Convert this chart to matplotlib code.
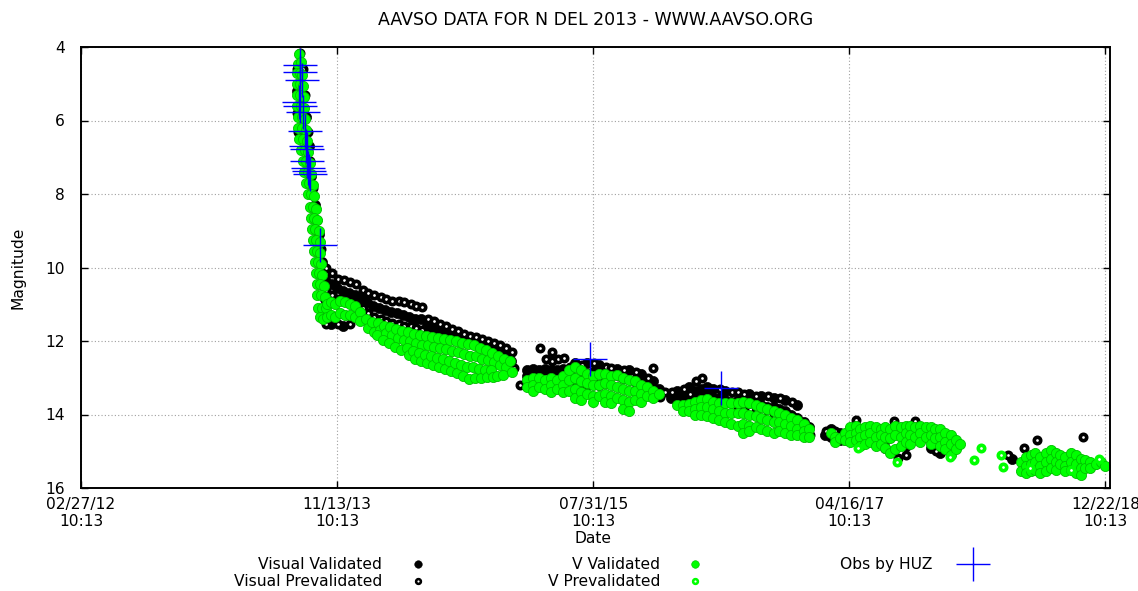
import datetime as dt

import matplotlib
matplotlib.use('Agg')
import matplotlib.pyplot as plt
import matplotlib.dates as mdates
from matplotlib.legend_handler import HandlerLine2D
from matplotlib.lines import Line2D
import numpy as np

# Nova Delphini 2013 light curve (AAVSO).
# Dates are JD - 2456000, magnitudes as plotted.
JD_OFFSET = 2456000.0
JD_UNIX = 2440587.5  # JD of 1970-01-01 = matplotlib date 0

# --- Visual Validated (solid black)
vis_val_jd = [512, 535, 541, 547, 556, 566, 574,
              581, 581, 595, 595, 610, 625, 625, 639, 654, 669, 683, 698, 713, 727, 742, 757, 771, 786, 800, 815,
              830, 844, 859, 874, 888, 903, 918, 932, 947, 962, 976, 991, 1006, 1020, 1035,
              1074, 1074, 1089, 1089, 1103, 1118, 1132, 1147, 1162, 1176, 1191, 1191, 1206, 1220, 1220, 1235,
              1250, 1250, 1264, 1294, 1308, 1323, 1338, 1352, 1352, 1367, 1381, 1396,
              1425, 1440, 1440, 1455, 1469, 1469, 1484, 1499, 1513, 1513, 1528, 1528, 1543, 1557, 1557, 1572,
              1587, 1601, 1616, 1616, 1631, 1645, 1645, 1660, 1675, 1675, 1689, 1704, 1704, 1718, 1733, 1733,
              1748, 1762,
              1801, 1814, 1814, 1838, 1838, 1850, 1862, 1862, 1875, 1887, 1887, 1899, 1899, 1911, 1924, 1936,
              1936, 1948, 1960, 1997, 2009, 2021, 2033, 2046, 2058, 2058, 2070, 2082, 2082, 2094, 2107, 2119,
              2258, 2290, 2319, 2338, 2363, 2387, 2448]
vis_val_mag = [5.2, 5.9, 6.7, 7.5, 8.3, 9.1, 9.85,
               10.3, 10.85, 10.45, 11.55, 10.55, 10.65, 11.58, 10.7, 10.75, 10.85, 10.95, 11.05, 11.1, 11.15, 11.2,
               11.25, 11.3, 11.35, 11.4, 11.4,
               11.6, 11.65, 11.75, 11.8, 11.85, 11.9, 11.95, 12.0, 12.05, 12.1, 12.15, 12.2, 12.3, 12.4, 12.55,
               12.8, 12.95, 12.75, 13.05, 12.8, 12.75, 12.8, 12.8, 12.75, 12.85, 12.6, 13.1, 12.9, 12.6, 13.2, 12.85,
               12.65, 13.2, 12.95, 12.75, 13.0, 12.8, 13.1, 12.9, 13.35, 13.2, 13.1, 13.3,
               13.55, 13.35, 13.55, 13.5, 13.25, 13.65, 13.35, 13.3, 13.25, 13.5, 13.3, 13.55, 13.55, 13.35, 13.6,
               13.65, 13.6, 13.65, 13.45, 13.7, 13.7, 13.5, 13.75, 13.8, 13.55, 13.8, 13.85, 13.6, 13.9, 14.0,
               13.75, 14.1, 14.2, 14.35,
               14.55, 14.4, 14.6, 14.5, 14.7, 14.7, 14.4, 14.6, 14.45, 14.5, 14.65, 14.45, 14.7, 14.5, 14.55, 14.5,
               14.8, 14.9, 14.5, 14.85, 14.55, 14.5, 14.6, 14.55, 14.65, 14.9, 14.55, 14.5, 15.05, 14.7, 14.65, 14.75,
               15.22, 15.35, 15.3, 15.35, 15.4, 15.45, 15.42]

# --- Visual Prevalidated (black ring)
vis_pre_jd = [519, 513, 527, 531, 512, 514, 539, 544, 550, 561, 570,
              583, 583, 583, 597, 597, 612, 612, 612, 627, 627, 641, 641, 641, 657, 657, 672, 672, 686, 686,
              701, 701, 716, 716, 730, 730, 745, 745, 760, 760, 774, 774, 789, 789, 803, 803, 818, 818,
              832, 846, 861, 876, 890, 905, 920, 934, 949, 964, 978, 993, 1008, 1022, 1037, 1037, 1042, 1057,
              1091, 1105, 1105, 1120, 1120, 1134, 1134, 1134, 1149, 1149, 1164, 1164, 1178, 1178, 1193, 1208,
              1208, 1222, 1237, 1237, 1252, 1266, 1266, 1279, 1279, 1296, 1310, 1325, 1340, 1340, 1354, 1369,
              1369, 1381, 1383, 1398,
              1411, 1427, 1457, 1457, 1471, 1486, 1486, 1501, 1501, 1515, 1545, 1574, 1589, 1589, 1603, 1603,
              1633, 1633, 1662, 1662, 1691, 1691, 1706, 1720, 1720, 1735, 1750, 1764,
              1803, 1826, 1828, 1852, 1875, 1926, 1950, 1970, 1979, 1997, 2021, 2072, 2096, 2109,
              2246, 2285, 2319, 2429, 2461]
vis_pre_mag = [4.15, 4.6, 4.6, 5.3, 5.8, 6.3, 6.3, 7.1, 7.85, 8.7, 9.5,
               10.0, 10.6, 11.55, 10.15, 10.75, 10.3, 10.85, 11.55, 10.35, 10.9, 10.4, 10.95, 11.55, 10.45, 11.0,
               10.6, 11.1, 10.7, 11.25, 10.75, 11.35, 10.8, 11.4, 10.85, 11.45, 10.9, 11.5, 10.92, 11.55, 10.95,
               11.6, 11.0, 11.6, 11.05, 11.65, 11.07, 11.7,
               11.4, 11.45, 11.55, 11.6, 11.67, 11.74, 11.8, 11.86, 11.9, 11.95, 12.0, 12.05, 12.12, 12.18, 12.3,
               12.75, 12.73, 13.2,
               12.95, 12.2, 13.0, 12.5, 12.95, 12.3, 12.55, 13.0, 12.5, 13.0, 12.45, 12.95, 12.7, 13.05, 12.85,
               12.65, 13.15, 12.9, 12.6, 13.15, 12.9, 12.7, 13.15, 12.73, 12.95, 12.95, 12.8, 13.05, 12.85, 13.3,
               13.15, 13.0, 13.4, 12.73, 13.45, 13.52,
               13.4, 13.38, 13.3, 13.7, 13.45, 13.1, 13.6, 13.0, 13.55, 13.7, 13.3, 13.4, 13.4, 13.8, 13.45, 13.85,
               13.5, 13.9, 13.5, 14.0, 13.55, 14.05, 14.15, 13.65, 14.25, 14.35, 14.45, 14.55,
               14.45, 14.45, 14.6, 14.55, 14.15, 14.75, 14.7, 14.18, 15.18, 15.1, 14.18, 15.0, 14.55, 14.95,
               15.1, 14.91, 14.7, 14.6, 15.35]

# --- V Validated (solid green)
v_val_jd = [518, 515, 521, 512, 519, 525, 512, 519, 527, 512, 520, 529, 512, 521, 530,
            514, 523, 532, 515, 525, 535, 517, 527, 537, 522, 531, 540, 526, 535, 543,
            529, 538, 546, 534, 542, 550, 539, 546, 554, 544, 551, 559, 547, 554, 562,
            549, 557, 565, 551, 559, 567, 553, 561, 569, 555, 563, 571, 558, 566, 574,
            560, 568, 577, 562, 570, 580, 564, 572, 582, 568, 576,
            585, 585, 595, 595, 605, 605, 617, 617, 630, 630, 642, 642, 654, 654, 666, 666,
            681, 685, 695, 699, 710, 714, 707, 725, 729, 722, 739, 743, 736, 754, 758, 751, 769, 773, 766,
            783, 787, 780, 785, 798, 802, 795, 800, 813, 817, 810, 815, 827, 831, 824, 829,
            842, 846, 839, 844, 857, 861, 854, 859, 871, 875, 868, 873, 886, 890, 883, 888,
            901, 905, 898, 903, 915, 919, 912, 917, 930, 934, 927, 932, 945, 949, 942, 947,
            959, 963, 956, 961, 974, 978, 971, 976, 988, 992, 985, 990, 1003, 1007, 1000,
            1018, 1022, 1015, 1032, 1036,
            1074, 1074, 1089, 1089, 1089, 1103, 1103, 1118, 1118, 1132, 1132, 1132, 1147, 1147,
            1162, 1162, 1162, 1176, 1176, 1176, 1191, 1191, 1191, 1191, 1206, 1206, 1206, 1206,
            1220, 1220, 1220, 1235, 1235, 1235, 1235, 1250, 1250, 1250, 1264, 1264, 1264, 1264,
            1279, 1279, 1279, 1279, 1294, 1294, 1294, 1308, 1308, 1308, 1308, 1323, 1323, 1323, 1323,
            1338, 1338, 1338, 1352, 1352, 1352, 1367, 1367, 1381, 1381, 1396,
            1440, 1455, 1455, 1469, 1469, 1484, 1484, 1484, 1499, 1499, 1499, 1513, 1513, 1513,
            1528, 1528, 1528, 1543, 1543, 1543, 1557, 1557, 1557, 1572, 1572, 1572, 1587, 1587, 1587,
            1601, 1601, 1601, 1601, 1616, 1616, 1616, 1616, 1631, 1631, 1631, 1645, 1645, 1645,
            1660, 1660, 1660, 1675, 1675, 1675, 1689, 1689, 1689, 1704, 1704, 1704, 1718, 1718, 1718,
            1733, 1733, 1733, 1748, 1748, 1748, 1762, 1762,
            1814, 1826, 1826, 1838, 1850, 1850, 1862, 1862, 1862, 1875, 1875, 1875, 1887, 1887, 1887,
            1899, 1899, 1899, 1911, 1911, 1911, 1924, 1924, 1924, 1936, 1936, 1936, 1948, 1948, 1948,
            1960, 1960, 1960, 1972, 1972, 1972, 1985, 1985, 1985, 1997, 1997, 1997, 2009, 2009, 2009,
            2021, 2021, 2033, 2033, 2033, 2046, 2046, 2058, 2058, 2058, 2070, 2070, 2082, 2082, 2082,
            2094, 2094, 2094, 2107, 2107, 2107, 2119, 2119, 2131,
            2278, 2278, 2290, 2290, 2290, 2302, 2302, 2302, 2314, 2314, 2314, 2326, 2326, 2326,
            2339, 2339, 2339, 2351, 2351, 2351, 2363, 2363, 2363, 2375, 2375, 2387, 2387, 2387,
            2400, 2400, 2400, 2412, 2412, 2412, 2424, 2424, 2424, 2436, 2436, 2448, 2448, 2461, 2473, 2483]
v_val_mag = [4.2, 4.45, 4.4, 4.7, 4.7, 4.75, 5.0, 5.0, 5.05, 5.3, 5.3, 5.35, 5.6, 5.6, 5.65,
             5.9, 5.9, 5.95, 6.2, 6.2, 6.25, 6.5, 6.5, 6.55, 6.8, 6.8, 6.85, 7.1, 7.1, 7.15,
             7.4, 7.4, 7.45, 7.7, 7.7, 7.75, 8.0, 8.0, 8.05, 8.35, 8.35, 8.4, 8.65, 8.65, 8.7,
             8.95, 8.95, 9.0, 9.25, 9.25, 9.3, 9.55, 9.55, 9.6, 9.85, 9.85, 9.9, 10.15, 10.15, 10.2,
             10.45, 10.45, 10.5, 10.75, 10.75, 10.8, 11.1, 11.1, 11.1, 11.35, 11.4,
             11.0, 11.35, 10.95, 11.3, 11.0, 11.35, 10.9, 11.25, 10.95, 11.3, 11.0, 11.3, 11.05, 11.35, 11.2, 11.45,
             11.4, 11.65, 11.48, 11.75, 11.52, 11.7, 11.85, 11.58, 11.78, 11.97, 11.62, 11.85, 12.05,
             11.68, 11.92, 12.15, 11.72, 11.98, 12.25,
             11.76, 12.0, 12.2, 12.38, 11.8, 12.05, 12.28, 12.48, 11.83, 12.1, 12.33, 12.55, 11.86, 12.12, 12.38, 12.6,
             11.88, 12.15, 12.42, 12.65, 11.92, 12.2, 12.46, 12.7, 11.95, 12.22, 12.5, 12.75, 11.98, 12.26, 12.55, 12.82,
             12.0, 12.3, 12.6, 12.88, 12.05, 12.35, 12.65, 12.95, 12.08, 12.4, 12.7, 13.03, 12.12, 12.42, 12.72, 13.02,
             12.18, 12.48, 12.75, 13.0, 12.25, 12.52, 12.78, 12.98, 12.32, 12.58, 12.8, 12.97, 12.4, 12.65, 12.95,
             12.48, 12.7, 12.92, 12.55, 12.85,
             13.05, 13.25, 13.0, 13.2, 13.35, 13.0, 13.25, 13.05, 13.3, 13.0, 13.2, 13.38, 13.05, 13.3,
             12.95, 13.2, 13.4, 12.8, 13.05, 13.35, 12.72, 13.0, 13.3, 13.55, 12.8, 13.1, 13.4, 13.6,
             12.9, 13.15, 13.45, 12.95, 13.2, 13.5, 13.65, 12.9, 13.2, 13.5, 12.9, 13.15, 13.45, 13.65,
             12.95, 13.2, 13.5, 13.7, 12.92, 13.25, 13.55, 13.0, 13.3, 13.6, 13.85, 13.05, 13.35, 13.65, 13.9,
             13.1, 13.35, 13.6, 13.2, 13.45, 13.65, 13.25, 13.5, 13.35, 13.55, 13.45,
             13.75, 13.75, 13.9, 13.72, 13.9, 13.65, 13.85, 14.0, 13.6, 13.8, 14.0, 13.58, 13.8, 14.05,
             13.65, 13.85, 14.1, 13.7, 13.9, 14.15, 13.7, 13.95, 14.2, 13.7, 13.95, 14.25, 13.68, 13.95, 14.3,
             13.66, 13.95, 14.25, 14.5, 13.7, 14.0, 14.3, 14.45, 13.75, 14.05, 14.35, 13.8, 14.1, 14.4,
             13.85, 14.15, 14.45, 13.9, 14.2, 14.5, 13.95, 14.2, 14.45, 14.0, 14.25, 14.5, 14.1, 14.3, 14.55,
             14.15, 14.4, 14.55, 14.25, 14.45, 14.6, 14.4, 14.6,
             14.5, 14.6, 14.75, 14.65, 14.5, 14.7, 14.35, 14.55, 14.75, 14.3, 14.5, 14.7, 14.4, 14.6, 14.85,
             14.35, 14.55, 14.8, 14.3, 14.5, 14.75, 14.35, 14.6, 14.85, 14.4, 14.55, 14.8, 14.35, 14.6, 14.9,
             14.4, 14.65, 15.05, 14.3, 14.55, 14.95, 14.35, 14.6, 14.85, 14.3, 14.5, 14.75, 14.3, 14.55, 14.8,
             14.35, 14.6, 14.3, 14.5, 14.75, 14.35, 14.6, 14.35, 14.55, 14.8, 14.4, 14.65, 14.4, 14.6, 14.85,
             14.5, 14.75, 14.95, 14.55, 14.8, 15.1, 14.7, 14.95, 14.8,
             15.3, 15.55, 15.15, 15.4, 15.6, 15.1, 15.35, 15.55, 15.05, 15.3, 15.5, 15.15, 15.4, 15.6,
             15.05, 15.3, 15.55, 14.97, 15.2, 15.45, 15.05, 15.3, 15.5, 15.1, 15.35, 15.15, 15.4, 15.55,
             15.05, 15.3, 15.5, 15.1, 15.35, 15.6, 15.2, 15.45, 15.65, 15.25, 15.45, 15.3, 15.45, 15.35, 15.3, 15.4]

# --- V Prevalidated (green ring)
v_pre_jd = [1880, 1975, 2105, 2163, 2180, 2229, 2236, 2300, 2400, 2470]
v_pre_mag = [14.9, 15.3, 15.15, 15.24, 14.91, 15.1, 15.43, 15.45, 15.5, 15.2]

# --- observations by HUZ (blue crosses)
huz_jd = [519.7, 519.7, 523.3, 517.2, 519.7, 527.0, 530.7, 533.1, 536.0, 536.0, 539.9, 541.6, 544.1,
          568.5, 1227.7, 1547.5]
huz_mag = [4.49, 4.69, 4.9, 5.5, 5.6, 5.78, 6.29, 6.69, 6.77, 7.1, 7.29, 7.37, 7.46, 9.39, 12.49, 13.28]

# x tick labels exactly as printed on the reference
xtick_labels = ['02/27/12\n10:13', '11/13/13\n10:13', '07/31/15\n10:13', '04/16/17\n10:13', '12/22/18\n10:13']

assert len(vis_val_jd) == len(vis_val_mag)
assert len(vis_pre_jd) == len(vis_pre_mag)
assert len(v_val_jd) == len(v_val_mag)
assert len(v_pre_jd) == len(v_pre_mag)
assert len(huz_jd) == len(huz_mag)


def jd_to_num(jd):
    return np.asarray(jd, dtype=float) + JD_OFFSET - JD_UNIX


def small_marker(handle, orig):
    # legend symbols are a bit smaller than the plotted ones, rings keep their hole
    handle.update_from(orig)
    handle.set_markersize(orig.get_markersize() * 0.75)
    handle.set_markeredgewidth(orig.get_markeredgewidth() * 0.7)


FS = 11.2
W, H = 1138, 591

fig = plt.figure(figsize=(W / 100, H / 100), dpi=100)
ax = fig.add_axes([81 / W, 103 / H, 1029 / W, 441 / H])

l_vv, = ax.plot(jd_to_num(vis_val_jd), vis_val_mag, 'o', ms=7.3, mfc='black', mec='black',
                mew=0.5, label='Visual Validated')
l_vp, = ax.plot(jd_to_num(vis_pre_jd), vis_pre_mag, 'o', ms=4.6, mfc='white', mec='black',
                mew=2.6, label='Visual Prevalidated')
l_gv, = ax.plot(jd_to_num(v_val_jd), v_val_mag, 'o', ms=7.3, mfc='#00ff00', mec='#00c000',
                mew=0.6, label='V Validated')
l_gp, = ax.plot(jd_to_num(v_pre_jd), v_pre_mag, 'o', ms=4.6, mfc='white', mec='#00ff00',
                mew=2.6, label='V Prevalidated')
l_huz, = ax.plot(jd_to_num(huz_jd), huz_mag, '+', ms=24, mec='#0000ff', mew=1.0,
                 label='Obs by HUZ')

# gnuplot put the time ticks 625 days apart, starting at the left edge
t0 = dt.datetime(2012, 2, 27, 10, 13)
ticks = [t0 + dt.timedelta(days=625 * k) for k in range(5)]
ax.set_xticks(mdates.date2num(ticks))
ax.set_xticklabels(xtick_labels)
ax.set_xlim(mdates.date2num(t0), mdates.date2num(t0 + dt.timedelta(days=2511)))

ax.set_ylim(16, 4)
ax.set_yticks(range(4, 17, 2))

ax.set_axisbelow(True)
ax.grid(True, color='#a0a0a0', linestyle=(0, (1, 2)), linewidth=0.8)
for sp in ax.spines.values():
    sp.set_linewidth(1.4)
ax.tick_params(direction='in', length=5, width=1, top=True, right=True, labelsize=FS)
ax.tick_params(axis='x', pad=6.5)
ax.tick_params(axis='y', pad=11.5)

ax.set_title('AAVSO DATA FOR N DEL 2013 - WWW.AAVSO.ORG', fontsize=12.5, pad=16)
ax.set_xlabel('Date', fontsize=FS)
ax.xaxis.set_label_coords(0.4976, -0.0975)
ax.set_ylabel('Magnitude', fontsize=FS)
ax.yaxis.set_label_coords(-0.054, 0.5)

leg_kw = dict(loc='upper right', frameon=False, borderpad=0, borderaxespad=0, handlelength=1.2,
              labelspacing=0.15, fontsize=FS, markerfirst=False)
small = {Line2D: HandlerLine2D(update_func=small_marker)}
fig.legend(handles=[l_vv, l_vp], bbox_to_anchor=(427.4 / W, 1 - 557 / H), handletextpad=1.7,
           handler_map=small, **leg_kw)
fig.legend(handles=[l_gv, l_gp], bbox_to_anchor=(704.4 / W, 1 - 557 / H), handletextpad=1.64,
           handler_map=small, **leg_kw)
fig.legend(handles=[l_huz], bbox_to_anchor=(982.4 / W, 1 - 557 / H), handletextpad=2.0, **leg_kw)

fig.savefig('out.png', dpi=100)
